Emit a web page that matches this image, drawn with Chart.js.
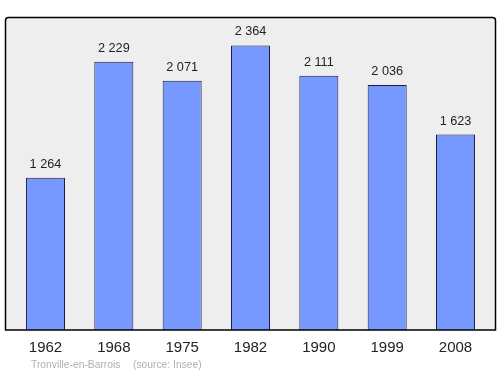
<!DOCTYPE html>
<html><head><meta charset="utf-8">
<script src="https://cdn.jsdelivr.net/npm/chart.js@4/dist/chart.umd.min.js"></script>
<style>html,body{margin:0;padding:0;background:#fff}#wrap{width:500px;height:374px;position:relative}</style>
</head><body><div id="wrap"><canvas id="c" width="500" height="374"></canvas></div>
<script>
const years = ['1962','1968','1975','1982','1990','1999','2008'];
const population = [1264, 2229, 2071, 2364, 2111, 2036, 1623];
const placeText = 'Tronville-en-Barrois';
const sourceText = '(source: Insee)';
const yMax = 2600;

function fmt(v){ return String(v).replace(/\B(?=(\d{3})+(?!\d))/g, ' '); }

function frame(ctx){
  const x=5.5,y=17.5,w=490,h=312.5,r=3;
  ctx.beginPath();
  ctx.moveTo(x+r,y);ctx.lineTo(x+w-r,y);ctx.quadraticCurveTo(x+w,y,x+w,y+r);
  ctx.lineTo(x+w,y+h);ctx.lineTo(x,y+h);ctx.lineTo(x,y+r);ctx.quadraticCurveTo(x,y,x+r,y);
  ctx.closePath();
}

const deco = {
  id: 'deco',
  beforeDraw(chart){
    const ctx = chart.ctx;
    ctx.save(); frame(ctx);
    ctx.fillStyle='#eeeeee';ctx.fill();
    ctx.restore();
  },
  afterDatasetsDraw(chart){
    const ctx = chart.ctx;
    const xs = chart.scales.x, ys = chart.scales.y;
    ctx.save(); frame(ctx);
    ctx.strokeStyle='#000';ctx.lineWidth=1.5;ctx.stroke();
    ctx.textAlign='center';ctx.textBaseline='middle';
    ctx.fillStyle='#222';ctx.font='12.7px "Liberation Sans", Arial, sans-serif';
    population.forEach((v,i)=>{
      ctx.fillText(fmt(v), xs.getPixelForValue(i), ys.getPixelForValue(v)-13.5);
    });
    ctx.font='15px "Liberation Sans", Arial, sans-serif';
    years.forEach((t,i)=>{ ctx.fillText(t, xs.getPixelForValue(i), 347.5); });
    ctx.textAlign='left';ctx.fillStyle='#b0b0b0';ctx.font='10.3px "Liberation Sans", Arial, sans-serif';
    ctx.fillText(placeText, 31, 365);
    ctx.fillText(sourceText, 133, 365);
    ctx.restore();
  }
};

new Chart(document.getElementById('c'), {
  type: 'bar',
  data: { labels: years, datasets: [{ data: population, backgroundColor: '#7799ff', borderColor: '#1a1a40', borderWidth: 1, barPercentage: 0.571, categoryPercentage: 1 }] },
  options: {
    responsive: false, animation: false,
    layout: { padding: { left: 11.3, right: 10.3, top: 17, bottom: 44 } },
    plugins: { legend: { display: false }, tooltip: { enabled: false } },
    scales: {
      x: { display: false },
      y: { display: false, min: 0, max: yMax }
    }
  },
  plugins: [deco]
});
</script></body></html>
